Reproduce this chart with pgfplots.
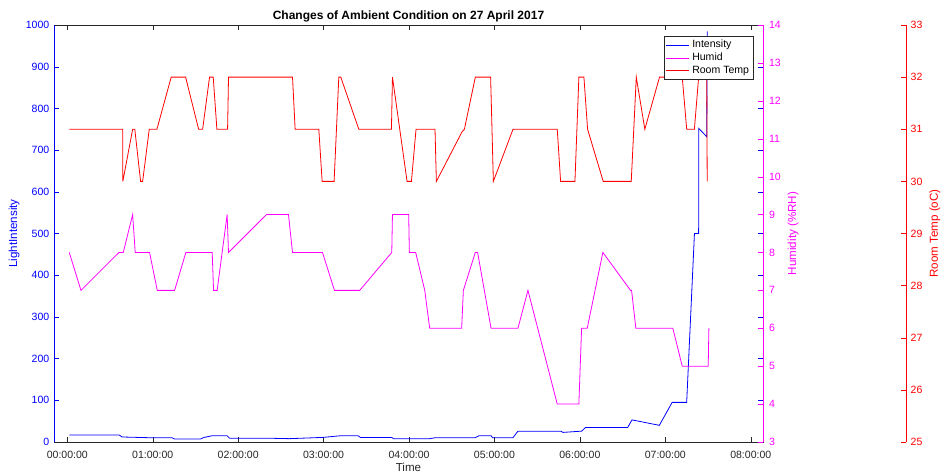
\documentclass[border=0pt]{standalone}
\usepackage{pgfplots}
\pgfplotsset{compat=1.18}
\usepackage{fontspec}
\setmainfont{Liberation Sans}

\definecolor{mblue}{RGB}{0,0,255}
\definecolor{mmag}{RGB}{255,0,255}
\definecolor{mred}{RGB}{255,0,0}
\definecolor{axisgray}{RGB}{38,38,38}

\pgfplotsset{
  common/.style={
    scale only axis,
    height=312.75pt,
    ymin=0,
    tick align=inside,
    major tick length=4pt,
    /pgf/number format/assume math mode=true,
    /pgf/number format/1000 sep={},
    ticklabel style={font=\fontsize{7.9}{9}\selectfont},
    every axis plot/.append style={line width=0.6pt},
  },
}

\begin{document}
\begin{tikzpicture}
% main axis: light intensity
\begin{axis}[common,
    width=531.75pt,
    xmin=-0.1557, xmax=8.1435,
    ymin=0, ymax=1000,
    xtick={0,1,...,8},
    xticklabels={00:00:00,01:00:00,02:00:00,03:00:00,04:00:00,05:00:00,06:00:00,07:00:00,08:00:00},
    ytick={0,100,...,1000},
    axis line style={axisgray, line width=0.5pt},
    xtick style={axisgray},
    ytick style={mblue},
    xticklabel style={axisgray, anchor=base, yshift=-12.5pt},
    yticklabel style={mblue},
    title={Changes of Ambient Condition on 27 April 2017},
    every axis title shift=0pt,
    title style={at={(axis description cs:0.5,1)}, anchor=base, yshift=4.3pt,
      font=\bfseries\fontsize{9}{10}\selectfont},
    xlabel={Time},
    every axis x label/.style={at={(axis description cs:0.5,-0.0719)}, anchor=base,
      axisgray, font=\fontsize{8.7}{10}\selectfont},
    ylabel={LightIntensity},
    every axis y label/.style={at={(axis description cs:-0.0564,0.5)}, rotate=90,
      anchor=center, mblue, font=\fontsize{8.7}{10}\selectfont},
]
\addplot[mblue] coordinates {
(0.023,17) (0.605,17) (0.643,12) (1.010,10) (1.228,10) (1.256,7) (1.560,7)
(1.600,11) (1.696,15) (1.871,15) (1.900,9) (2.370,9) (2.600,8) (2.990,11)
(3.200,15) (3.404,15) (3.430,11) (3.794,11) (3.820,8) (4.240,8) (4.300,10)
(4.770,10) (4.820,15) (4.960,15) (4.980,10) (5.216,10) (5.275,26) (5.780,26)
(5.800,23) (6.020,26) (6.067,35) (6.560,35) (6.610,53) (6.930,40) (7.080,95)
(7.250,95) (7.341,500) (7.390,500) (7.392,752) (7.485,732) (7.490,985)
};
\draw[mblue, line width=0.5pt] (rel axis cs:0,0) -- (rel axis cs:0,1);
\end{axis}

% humidity axis
\begin{axis}[common,
    width=531.75pt,
    xmin=-0.1557, xmax=8.1435,
    ymin=3, ymax=14,
    ytick={3,4,...,14},
    axis x line=none,
    axis y line*=right,
    axis line style={mmag, line width=0.5pt},
    ytick style={mmag},
    yticklabel style={mmag, xshift=1pt},
    ylabel={Humidity (\%RH)},
    every axis y label/.style={at={(axis description cs:1.0423,0.5)}, rotate=90,
      anchor=center, mmag, font=\fontsize{8.7}{10}\selectfont},
]
\addplot[mmag] coordinates {
(0.023,8) (0.160,7) (0.605,8) (0.655,8) (0.765,9) (0.795,8) (0.963,8)
(1.053,7) (1.256,7) (1.388,8) (1.696,8) (1.712,7) (1.754,7) (1.871,9)
(1.887,8) (2.332,9) (2.589,9) (2.636,8) (2.987,8) (3.127,7) (3.423,7)
(3.798,8) (3.806,9) (3.996,9) (4.004,8) (4.078,8) (4.184,7) (4.242,6)
(4.616,6) (4.636,7) (4.776,8) (4.803,8) (4.960,6) (5.275,6) (5.392,7)
(5.735,4) (5.988,4) (6.020,6) (6.086,6) (6.269,8) (6.593,7) (6.605,7)
(6.655,6) (7.088,6) (7.198,5) (7.502,5) (7.510,6)
};
\end{axis}

% room temperature axis, offset to the right
\begin{axis}[common,
    width=639pt,
    xmin=-0.1557, xmax=9.817,
    ymin=25, ymax=33,
    ytick={25,26,...,33},
    axis x line=none,
    axis y line*=right,
    axis line style={mred, line width=0.5pt},
    ytick style={mred},
    yticklabel style={mred},
    ylabel={Room Temp (oC)},
    every axis y label/.style={at={(axis description cs:1.0340,0.5)}, rotate=90,
      anchor=center, mred, font=\fontsize{8.7}{10}\selectfont},
    legend style={at={(axis description cs:0.8208,0.9736)}, anchor=north east,
      draw=axisgray, fill=white, font=\fontsize{7.9}{9}\selectfont,
      inner sep=1pt, row sep=-1.5pt},
    legend cell align=left,
]
\addlegendimage{mblue, line width=0.6pt}
\addlegendimage{mmag, line width=0.6pt}
\addplot[mred] coordinates {
(0.023,31) (0.648,31) (0.650,30) (0.765,31) (0.790,31) (0.858,30) (0.882,30)
(0.959,31) (1.049,31) (1.216,32) (1.385,32) (1.537,31) (1.584,31) (1.665,32)
(1.708,32) (1.751,31) (1.876,31) (1.887,32) (2.636,32) (2.667,31) (2.944,31)
(2.983,30) (3.123,30) (3.178,32) (3.201,32) (3.412,31) (3.794,31) (3.806,32)
(3.977,30) (4.028,30) (4.082,31) (4.304,31) (4.320,30) (4.620,30.95) (4.648,31)
(4.776,32) (4.955,32) (4.987,30) (5.217,31) (5.735,31) (5.774,30) (5.942,30)
(5.988,32) (6.047,32) (6.090,31) (6.273,30) (6.601,30) (6.660,32) (6.760,31)
(6.932,32) (7.198,32) (7.250,31) (7.340,31) (7.390,32) (7.485,32) (7.490,30)
};
\legend{Intensity,Humid,Room Temp}
\end{axis}
\pgfresetboundingbox
\useasboundingbox (-40.5pt,-24.75pt) rectangle (666.75pt,331.5pt);
\end{tikzpicture}
\end{document}
